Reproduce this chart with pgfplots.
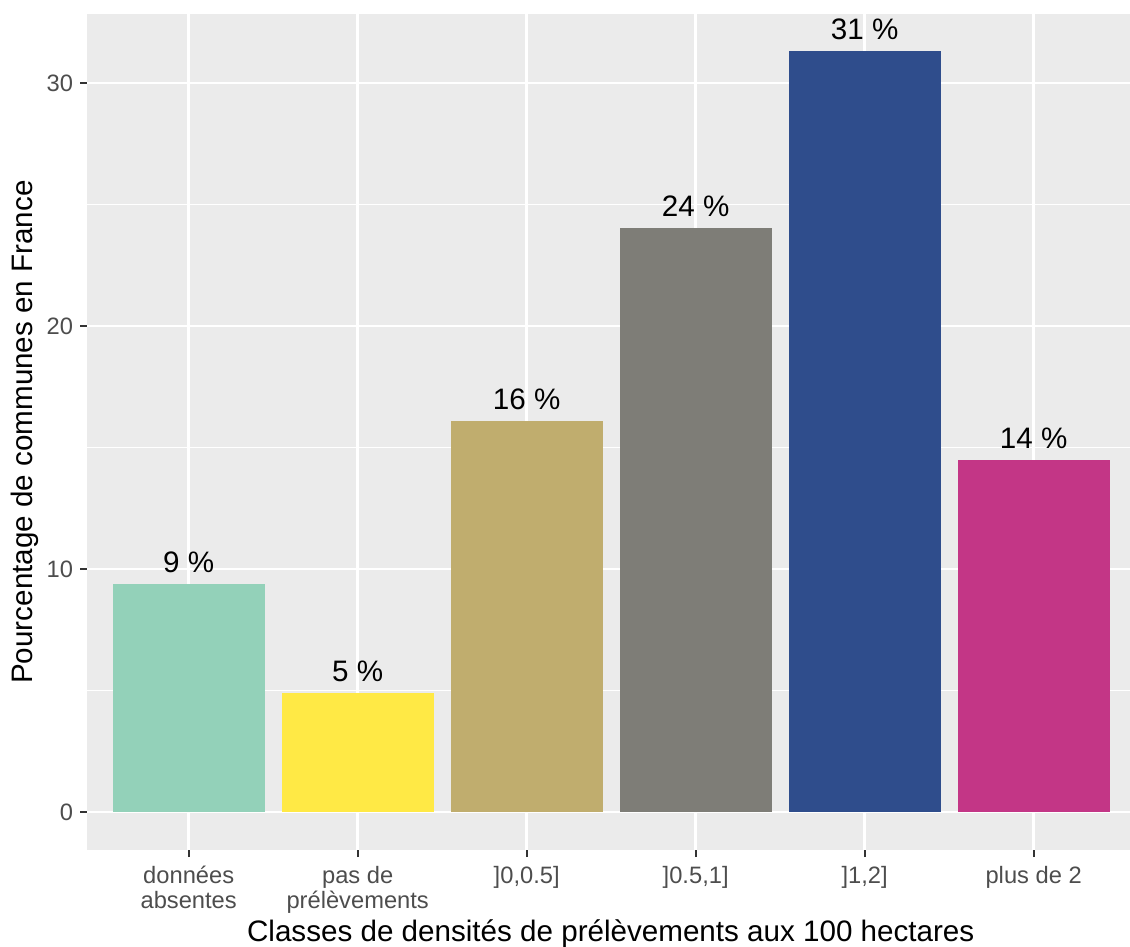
\documentclass[border=0pt]{standalone}
\usepackage{fontspec}
\setmainfont{Liberation Sans}
\usepackage{pgfplots}
\pgfplotsset{compat=1.18}
\definecolor{panelbg}{HTML}{EBEBEB}
\definecolor{tickc}{HTML}{333333}
\definecolor{ticklab}{HTML}{4D4D4D}
\definecolor{c1}{RGB}{147,209,185}
\definecolor{c2}{RGB}{255,233,69}
\definecolor{c3}{RGB}{192,173,110}
\definecolor{c4}{RGB}{126,125,119}
\definecolor{c5}{RGB}{47,77,140}
\definecolor{c6}{RGB}{195,54,134}
\begin{document}
\begin{tikzpicture}[x=1pt,y=1pt]
\path[use as bounding box] (0,0) rectangle (1130,946);
\begin{axis}[
  at={(87.3pt,96pt)}, anchor=south west,
  scale only axis, width=1042.7pt, height=836pt,
  xmin=0.4, xmax=6.57, ymin=-1.564, ymax=32.84,
  ybar, bar width=0.9,
  axis background/.style={fill=panelbg},
  axis line style={draw=none},
  xtick={1,2,3,4,5,6},
  xticklabels={{données\\absentes},{pas de\\prélèvements},{]0,0.5]},{]0.5,1]},{]1,2]},{plus de 2}},
  ytick={0,10,20,30}, minor ytick={5,15,25},
  xmajorgrids, ymajorgrids, yminorgrids,
  major grid style={white, line width=2.4pt},
  minor grid style={white, line width=1.2pt},
  tick align=outside, xtick pos=bottom, ytick pos=left,
  major tick length=7pt, minor tick length=0pt,
  tick style={color=tickc, line width=2.2pt},
  /pgf/number format/assume math mode=true,
  xticklabel style={font=\fontsize{23.7}{25}\selectfont, color=ticklab, align=center, inner sep=0pt, yshift=-9pt},
  yticklabel style={font=\fontsize{23.7}{25}\selectfont, color=ticklab, inner sep=0pt, xshift=-7pt},
  xlabel={Classes de densités de prélèvements aux 100 hectares},
  ylabel={Pourcentage de communes en France},
  xlabel style={font=\fontsize{29.6}{32}\selectfont, color=black, at={(axis description cs:0.502,-0.1097)}, anchor=base, inner sep=0pt},
  ylabel style={font=\fontsize{29.6}{32}\selectfont, color=black, at={(axis description cs:-0.0598,0.5)}, anchor=center, rotate=0},
  nodes near coords, point meta=explicit symbolic,
  every node near coord/.append style={font=\fontsize{29.6}{32}\selectfont, color=black, anchor=south, inner sep=0pt, yshift=11pt},
]
\addplot[fill=c1, draw=none, bar shift=0pt] coordinates {(1,9.38) [9 \%]};
\addplot[fill=c2, draw=none, bar shift=0pt] coordinates {(2,4.89) [5 \%]};
\addplot[fill=c3, draw=none, bar shift=0pt] coordinates {(3,16.11) [16 \%]};
\addplot[fill=c4, draw=none, bar shift=0pt] coordinates {(4,24.02) [24 \%]};
\addplot[fill=c5, draw=none, bar shift=0pt] coordinates {(5,31.30) [31 \%]};
\addplot[fill=c6, draw=none, bar shift=0pt] coordinates {(6,14.50) [14 \%]};
\end{axis}
\end{tikzpicture}
\end{document}
